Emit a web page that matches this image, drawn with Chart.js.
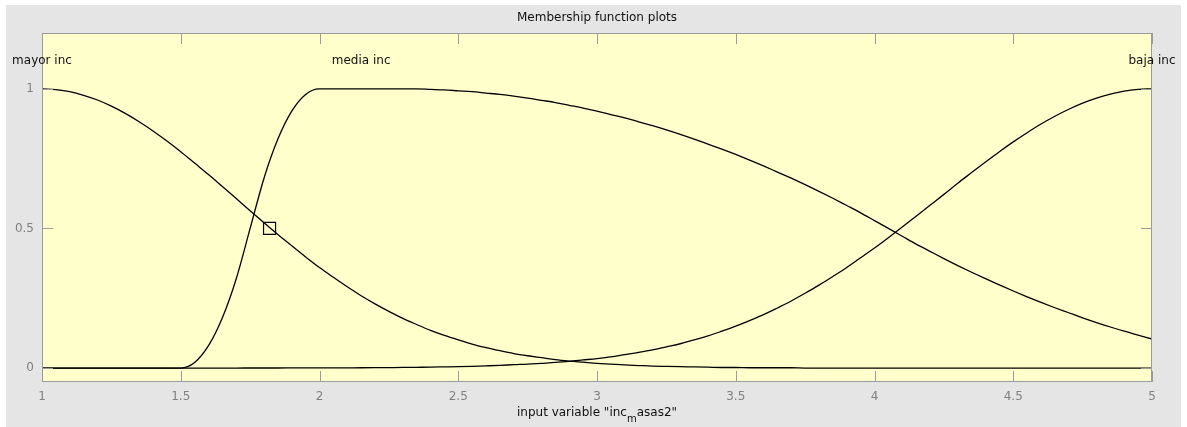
<!DOCTYPE html>
<html>
<head>
<meta charset="utf-8">
<script src="https://cdn.jsdelivr.net/npm/chart.js@4/dist/chart.umd.min.js"></script>
<style>
  html, body { margin: 0; padding: 0; background: #ffffff; }
  #mf { display: block; }
</style>
</head>
<body>
<canvas id="mf" width="1187" height="427"></canvas>
<script>
// Input variable samples (universe of discourse 1..5)
const xValues = [
  1.00, 1.05, 1.10, 1.15, 1.20, 1.25, 1.30, 1.35, 1.40, 1.45,
  1.50, 1.55, 1.60, 1.65, 1.70, 1.75, 1.80, 1.85, 1.90, 1.95,
  2.00, 2.05, 2.10, 2.15, 2.20, 2.25, 2.30, 2.35, 2.40, 2.45,
  2.50, 2.55, 2.60, 2.65, 2.70, 2.75, 2.80, 2.85, 2.90, 2.95,
  3.00, 3.05, 3.10, 3.15, 3.20, 3.25, 3.30, 3.35, 3.40, 3.45,
  3.50, 3.55, 3.60, 3.65, 3.70, 3.75, 3.80, 3.85, 3.90, 3.95,
  4.00, 4.05, 4.10, 4.15, 4.20, 4.25, 4.30, 4.35, 4.40, 4.45,
  4.50, 4.55, 4.60, 4.65, 4.70, 4.75, 4.80, 4.85, 4.90, 4.95,
  5.00
];

// Membership degrees
const mayorInc = [
  1.000, 0.997, 0.990, 0.977, 0.960, 0.938, 0.912, 0.882, 0.849, 0.813,
  0.775, 0.734, 0.693, 0.650, 0.607, 0.563, 0.520, 0.478, 0.438, 0.398,
  0.360, 0.325, 0.291, 0.259, 0.230, 0.203, 0.178, 0.156, 0.135, 0.117,
  0.101, 0.086, 0.073, 0.062, 0.052, 0.044, 0.037, 0.030, 0.025, 0.021,
  0.017, 0.014, 0.011, 0.009, 0.007, 0.006, 0.005, 0.004, 0.003, 0.002,
  0.002, 0.001, 0.001, 0.001, 0.001, 0, 0, 0, 0, 0,
  0, 0, 0, 0, 0, 0, 0, 0, 0, 0,
  0, 0, 0, 0, 0, 0, 0, 0, 0, 0,
  0
];

const mediaInc = [
  0, 0, 0, 0, 0, 0, 0, 0, 0, 0,
  0, 0.020, 0.080, 0.180, 0.320, 0.500, 0.680, 0.820, 0.920, 0.980,
  1, 1, 1, 1, 1, 1, 1, 1, 0.998, 0.996,
  0.993, 0.990, 0.985, 0.980, 0.974, 0.967, 0.959, 0.951, 0.941, 0.931,
  0.920, 0.908, 0.896, 0.882, 0.868, 0.853, 0.837, 0.820, 0.802, 0.784,
  0.765, 0.745, 0.724, 0.702, 0.680, 0.657, 0.633, 0.608, 0.582, 0.556,
  0.528, 0.500, 0.472, 0.444, 0.418, 0.392, 0.367, 0.343, 0.320, 0.298,
  0.276, 0.255, 0.235, 0.216, 0.198, 0.180, 0.163, 0.147, 0.132, 0.118,
  0.104
];

const bajaInc = [
  0, 0, 0, 0, 0, 0, 0, 0, 0, 0,
  0, 0, 0, 0, 0, 0.0001, 0.0002, 0.0002, 0.0003, 0.0004,
  0.0005, 0.0006, 0.0008, 0.0010, 0.0013, 0.0017, 0.0021, 0.0027, 0.0033, 0.0042,
  0.0051, 0.0063, 0.0078, 0.0095, 0.012, 0.014, 0.017, 0.020, 0.024, 0.029,
  0.034, 0.040, 0.048, 0.056, 0.065, 0.076, 0.087, 0.101, 0.115, 0.132,
  0.150, 0.170, 0.191, 0.215, 0.240, 0.268, 0.297, 0.328, 0.360, 0.395,
  0.430, 0.467, 0.505, 0.544, 0.583, 0.622, 0.662, 0.700, 0.738, 0.775,
  0.810, 0.843, 0.874, 0.902, 0.927, 0.949, 0.967, 0.981, 0.992, 0.998,
  1.000
];

// Function names and where each name sits (x of the peak, membership 1.1)
const mfNames = ['mayor inc', 'media inc', 'baja inc'];
const mfNameX = [1, 2.15, 5];
const mfNameY = 1.1;

// Selected point on "mayor inc"
const selectedPoint = [{ x: 1.82, y: 0.5 }];

// Axis ticks
const xTicks = [1, 1.5, 2, 2.5, 3, 3.5, 4, 4.5, 5];
const yTicks = [0, 0.5, 1];

const FONT = '"DejaVu Sans", "Liberation Sans", Arial, sans-serif';
const FRAME = '#9a9a9a';

function series(values) {
  return xValues.map((x, i) => ({ x: x, y: values[i] }));
}

// Figure background, axes frame, inward ticks and all text labels
const mfDecor = {
  id: 'mfDecor',
  beforeDraw(chart) {
    const { ctx, chartArea: a } = chart;
    ctx.save();
    ctx.fillStyle = '#ffffff';
    ctx.fillRect(0, 0, chart.width, chart.height);
    ctx.fillStyle = '#e5e5e5';
    ctx.fillRect(6, 5, 1175, chart.height - 5);
    ctx.fillStyle = '#ffffcc';
    ctx.fillRect(a.left, a.top, a.right - a.left, a.bottom - a.top);
    ctx.restore();
  },
  afterDraw(chart) {
    const { ctx, chartArea: a, scales } = chart;
    const xs = scales.x, ys = scales.y;
    ctx.save();
    // frame
    ctx.strokeStyle = FRAME;
    ctx.lineWidth = 1;
    ctx.strokeRect(a.left + 0.5, a.top + 0.5, a.right - a.left - 1, a.bottom - a.top - 1);
    // inward tick marks
    const tl = 11;
    ctx.beginPath();
    xTicks.forEach(v => {
      const px = Math.round(xs.getPixelForValue(v)) + 0.5;
      ctx.moveTo(px, a.bottom); ctx.lineTo(px, a.bottom - tl);
      ctx.moveTo(px, a.top); ctx.lineTo(px, a.top + tl);
    });
    yTicks.forEach(v => {
      const py = Math.round(ys.getPixelForValue(v)) + 0.5;
      ctx.moveTo(a.left, py); ctx.lineTo(a.left + tl, py);
      ctx.moveTo(a.right, py); ctx.lineTo(a.right - tl, py);
    });
    ctx.stroke();

    // title
    ctx.fillStyle = '#111111';
    ctx.font = '12px ' + FONT;
    ctx.textAlign = 'center';
    ctx.textBaseline = 'middle';
    ctx.fillText('Membership function plots', (a.left + a.right) / 2, 18);

    // function names
    mfNames.forEach((name, i) => {
      ctx.fillText(name, xs.getPixelForValue(mfNameX[i]), ys.getPixelForValue(mfNameY));
    });

    // x-axis title with subscript
    const partA = 'input variable "inc';
    const partSub = 'm';
    const partB = 'asas2"';
    ctx.font = '12px ' + FONT;
    const wA = ctx.measureText(partA).width;
    const wB = ctx.measureText(partB).width;
    ctx.font = '10px ' + FONT;
    const wS = ctx.measureText(partSub).width;
    const total = wA + wS + wB;
    let cx = (a.left + a.right) / 2 - total / 2;
    const ty = 413;
    ctx.textAlign = 'left';
    ctx.font = '12px ' + FONT;
    ctx.fillText(partA, cx, ty);
    cx += wA;
    ctx.font = '10px ' + FONT;
    ctx.fillText(partSub, cx, ty + 6);
    cx += wS;
    ctx.font = '12px ' + FONT;
    ctx.fillText(partB, cx, ty);
    ctx.restore();
  }
};

const lineStyle = {
  borderColor: '#000000',
  borderWidth: 1.3,
  pointRadius: 0,
  fill: false,
  cubicInterpolationMode: 'monotone'
};

new Chart(document.getElementById('mf'), {
  type: 'line',
  data: {
    datasets: [
      Object.assign({ label: mfNames[0], data: series(mayorInc) }, lineStyle),
      Object.assign({ label: mfNames[1], data: series(mediaInc) }, lineStyle),
      Object.assign({ label: mfNames[2], data: series(bajaInc) }, lineStyle),
      {
        type: 'scatter',
        label: 'selected',
        data: selectedPoint,
        showLine: false,
        pointStyle: 'rect',
        pointRadius: 8.5,
        pointBorderWidth: 1.2,
        pointBorderColor: '#000000',
        pointBackgroundColor: 'rgba(0,0,0,0)'
      }
    ]
  },
  options: {
    responsive: false,
    animation: false,
    layout: { padding: { left: 0, top: 33, right: 35, bottom: 0 } },
    plugins: {
      legend: { display: false },
      tooltip: { enabled: false },
      title: { display: false }
    },
    scales: {
      x: {
        type: 'linear',
        min: 1,
        max: 5,
        afterBuildTicks: s => { s.ticks = xTicks.map(v => ({ value: v })); },
        afterFit: s => { s.height = 45; },
        grid: { display: false, drawTicks: false },
        border: { display: false },
        ticks: {
          color: '#808080',
          font: { family: FONT, size: 12 },
          padding: 8,
          maxRotation: 0,
          autoSkip: false,
          callback: v => String(v)
        }
      },
      y: {
        type: 'linear',
        min: -0.05,
        max: 1.2,
        afterBuildTicks: s => { s.ticks = yTicks.map(v => ({ value: v })); },
        afterFit: s => { s.width = 42; },
        grid: { display: false, drawTicks: false },
        border: { display: false },
        ticks: {
          color: '#808080',
          font: { family: FONT, size: 12 },
          padding: 8,
          autoSkip: false,
          callback: v => String(v)
        }
      }
    }
  },
  plugins: [mfDecor]
});
</script>
</body>
</html>
